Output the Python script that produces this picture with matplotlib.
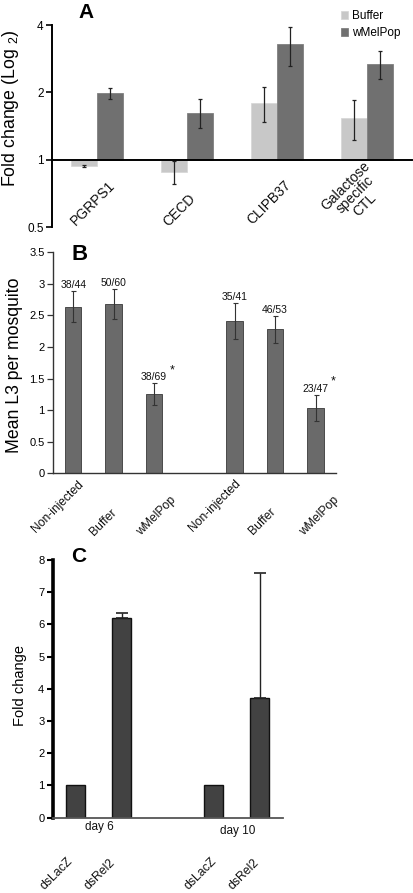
import matplotlib
matplotlib.use("Agg")
import matplotlib.pyplot as plt
import numpy as np
from matplotlib.ticker import FixedLocator, NullLocator, NullFormatter
import matplotlib.transforms as mtrans

plt.rcParams['font.family'] = ['Liberation Sans', 'DejaVu Sans']

# ---------------- data ----------------
# Panel A
a_genes = ["PGRPS1", "CECD", "CLIPB37", "Galactose\nspecific\nCTL"]
a_buffer = [0.94, 0.885, 1.79, 1.53]
a_buffer_err = [0.008, 0.105, 0.32, 0.31]
a_wmel = [1.98, 1.62, 3.28, 2.67]
a_wmel_err = [0.12, 0.24, 0.65, 0.38]
a_yticks = [0.5, 1, 2, 4]
a_ytick_labels = ["0.5", "1", "2", "4"]

# Panel B
b_groups = ["Non-injected", "Buffer", "wMelPop", "Non-injected", "Buffer", "wMelPop"]
b_values = [2.64, 2.68, 1.25, 2.41, 2.28, 1.04]
b_err = [0.245, 0.24, 0.175, 0.29, 0.21, 0.205]
b_counts = ["38/44", "50/60", "38/69", "35/41", "46/53", "23/47"]
b_signif = [False, False, True, False, False, True]
b_yticks = [0, 0.5, 1, 1.5, 2, 2.5, 3, 3.5]
b_ytick_labels = ["0", "0.5", "1", "1.5", "2", "2.5", "3", "3.5"]

# Panel C
c_labels = ["dsLacZ", "dsRel2", "dsLacZ", "dsRel2"]
c_days = ["day 6", "day 10"]
c_values = [1.0, 6.2, 1.0, 3.73]
c_err_up = [0.0, 0.17, 0.0, 3.88]
c_yticks = [0, 1, 2, 3, 4, 5, 6, 7, 8]

# ---------------- figure ----------------
W, H = 413, 893
fig = plt.figure(figsize=(W / 100, H / 100), dpi=100)


def fx(px):
    return px / W


def fy(py):
    return 1 - py / H


def px_offset(dx, dy):
    # offset in pixels (dy positive = down)
    return mtrans.ScaledTranslation(dx / 100, -dy / 100, fig.dpi_scale_trans)


# ===== Panel A =====
axA = fig.add_axes([fx(52), fy(227), (412 - 52) / W, (227 - 25) / H])
axA.set_yscale('log', base=2)
axA.set_ylim(0.5, 4)
axA.set_xlim(-0.5, 3.5)
xa = np.arange(len(a_genes))
bw = 0.29
axA.bar(xa - bw / 2, np.array(a_buffer) - 1, bottom=1, width=bw, color='#c8c8c8',
        edgecolor='#d8d8d8', linewidth=0.6, label='Buffer', zorder=2)
axA.bar(xa + bw / 2, np.array(a_wmel) - 1, bottom=1, width=bw, color='#707070',
        edgecolor='#808080', linewidth=0.6, label='wMelPop', zorder=2)
axA.errorbar(xa - bw / 2, a_buffer, yerr=a_buffer_err, fmt='none', ecolor='#222222',
             elinewidth=0.9, capsize=1.5, capthick=0.9, zorder=3)
axA.errorbar(xa + bw / 2, a_wmel, yerr=a_wmel_err, fmt='none', ecolor='#222222',
             elinewidth=0.9, capsize=1.5, capthick=0.9, zorder=3)
axA.axhline(1, color='black', linewidth=1.4, zorder=4, clip_on=False)
for s in ['top', 'right', 'bottom']:
    axA.spines[s].set_visible(False)
axA.spines['left'].set_linewidth(1.4)
axA.yaxis.set_major_locator(FixedLocator(a_yticks))
axA.yaxis.set_minor_locator(NullLocator())
axA.yaxis.set_minor_formatter(NullFormatter())
axA.set_yticklabels(a_ytick_labels)
axA.tick_params(axis='y', direction='out', length=4, width=1.2, labelsize=8.5, pad=2)
axA.set_xticks([])
axA.set_ylabel(r'Fold change (Log $_{\mathregular{2}}$)', fontsize=12.8)
axA.yaxis.set_label_coords((21 - 52) / 360, (227 - 108.5) / 202)
# rotated category labels
a_lab_dx = [-4, -8, -8, -12]
a_lab_y = [203, 210.5, 203, 195]
atr = mtrans.blended_transform_factory(axA.transData, fig.transFigure)
for i, g in enumerate(a_genes):
    axA.text(xa[i], fy(a_lab_y[i]), g, rotation=45, rotation_mode='anchor', ha='center',
             va='center', multialignment='center', fontsize=10, color='#111111',
             transform=atr + px_offset(a_lab_dx[i], 0), linespacing=0.95)
axA.legend(loc='upper left', bbox_to_anchor=(fx(341), fy(10)), bbox_transform=fig.transFigure,
           frameon=False, fontsize=8.5, handlelength=0.6, handleheight=0.6,
           handletextpad=0.3, labelspacing=0.45, borderpad=0, borderaxespad=0)
fig.text(fx(86), fy(13), "A", fontsize=15, fontweight='bold', ha='center', va='center')

# ===== Panel B =====
axB = fig.add_axes([fx(53), fy(473.3), (335.7 - 53) / W, (473.3 - 252.3) / H])
xb = np.array([0, 1, 2, 4, 5, 6])
axB.set_xlim(-0.5, 6.5)
axB.set_ylim(0, 3.5)
axB.bar(xb, b_values, width=0.41, color='#6a6a6a', edgecolor='#4a4a4a', linewidth=0.7, zorder=2)
axB.errorbar(xb, b_values, yerr=b_err, fmt='none', ecolor='#333333', elinewidth=0.8,
             capsize=1.8, capthick=0.8, zorder=3)
for s in ['top', 'right']:
    axB.spines[s].set_visible(False)
axB.spines['left'].set_color('#333333')
axB.spines['bottom'].set_color('#333333')
axB.spines['left'].set_linewidth(1.0)
axB.spines['bottom'].set_linewidth(1.0)
axB.set_yticks(b_yticks)
axB.set_yticklabels(b_ytick_labels)
axB.tick_params(axis='y', direction='out', length=4, width=0.9, labelsize=8, pad=2,
                color='#333333')
axB.set_xticks([])
axB.set_ylabel('Mean L3 per mosquito', fontsize=12.7)
axB.yaxis.set_label_coords((23 - 53) / 282.7, (473.3 - 365.7) / 221)
for i, (xv, v, e) in enumerate(zip(xb, b_values, b_err)):
    axB.annotate(b_counts[i], (xv, v + e), xytext=(0, 6), textcoords='offset pixels',
                 ha='center', va='center', fontsize=7.5, color='#111111')
    if b_signif[i]:
        axB.annotate('*', (xv, v + e), xytext=(18, 13), textcoords='offset pixels',
                     ha='center', va='center', fontsize=9, color='#111111')
b_lab_dx = [-15.5, -10, 2, -20, -13, 4]
b_lab_y = [506.5, 522, 516, 506, 521, 516]
btr = mtrans.blended_transform_factory(axB.transData, fig.transFigure)
for i, g in enumerate(b_groups):
    axB.text(xb[i], fy(b_lab_y[i]), g, rotation=45, rotation_mode='anchor', ha='center',
             va='center', fontsize=8.7, color='#111111',
             transform=btr + px_offset(b_lab_dx[i], 0))
fig.text(fx(80), fy(255), "B", fontsize=16, fontweight='bold', ha='center', va='center')

# ===== Panel C =====
axC = fig.add_axes([fx(52.7), fy(817.7), (282.7 - 52.7) / W, (817.7 - 560) / H])
xc = np.array([0, 1, 3, 4])
axC.set_xlim(-0.5, 4.5)
axC.set_ylim(0, 8)
axC.bar(xc, c_values, width=0.42, color='#424242', edgecolor='#111111', linewidth=1.0, zorder=2)
err_idx = [i for i, e in enumerate(c_err_up) if e > 0]
axC.errorbar(xc[err_idx], np.array(c_values)[err_idx],
             yerr=[np.zeros(len(err_idx)), np.array(c_err_up)[err_idx]],
             fmt='none', ecolor='#222222', elinewidth=1.0, capsize=4, capthick=1.2, zorder=3)
for s in ['top', 'right']:
    axC.spines[s].set_visible(False)
axC.spines['left'].set_linewidth(2.6)
axC.spines['left'].set_color('black')
axC.spines['bottom'].set_linewidth(1.3)
axC.spines['bottom'].set_color('#555555')
axC.set_yticks(c_yticks)
axC.tick_params(axis='y', direction='out', length=4, width=1.5, labelsize=8, pad=2)
axC.set_xticks([])
axC.set_ylabel('Fold change', fontsize=10.5)
axC.yaxis.set_label_coords((26.7 - 52.7) / 230, (817.7 - 686) / 257.7)
ctr = mtrans.blended_transform_factory(axC.transData, fig.transFigure)
day_centers = [(xc[0] + xc[1]) / 2, (xc[2] + xc[3]) / 2]
day_y = [827, 831]
for d, xv, yv in zip(c_days, day_centers, day_y):
    axC.text(xv, fy(yv), d, ha='center', va='center', fontsize=8.5, color='#111111',
             transform=ctr + px_offset(1, 0))
c_lab_dx = [-19.5, -21.7, -12.8, -15.8]
for i, g in enumerate(c_labels):
    axC.text(xc[i], fy(874), g, rotation=45, rotation_mode='anchor', ha='center',
             va='center', fontsize=8.8, color='#111111',
             transform=ctr + px_offset(c_lab_dx[i], 0))
fig.text(fx(79), fy(557), "C", fontsize=15, fontweight='bold', ha='center', va='center')

fig.savefig("out.png", dpi=100)
